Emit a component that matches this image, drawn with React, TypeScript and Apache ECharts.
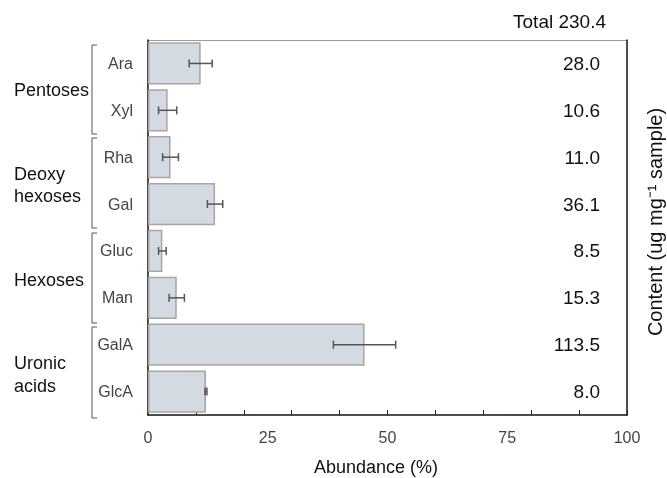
import React, { useEffect, useRef } from "react";
import * as echarts from "echarts";

const categories = ["Ara", "Xyl", "Rha", "Gal", "Gluc", "Man", "GalA", "GlcA"];
const abundance = [11.0, 4.1, 4.7, 14.0, 3.0, 6.0, 45.2, 12.1];
const errors = [2.4, 1.9, 1.65, 1.6, 0.8, 1.6, 6.5, 0.2];
const contents = ["28.0", "10.6", "11.0", "36.1", "8.5", "15.3", "113.5", "8.0"];
const totalLabel = "Total 230.4";
const groupLabels = [["Pentoses"], ["Deoxy", "hexoses"], ["Hexoses"], ["Uronic", "acids"]];
const xTickLabels = [0, 25, 50, 75, 100];

const FONT = "'Liberation Sans', Arial, Helvetica, sans-serif";

export default function App() {
  const ref = useRef<HTMLDivElement>(null);
  useEffect(() => {
    if (!ref.current) return;
    const chart = echarts.init(ref.current, undefined, { renderer: "svg" });

    const groupTop = [45, 138, 233, 327];
    const groupBottom = [134, 228, 323, 418];
    const groupTextY = [[90], [174, 196], [280], [363, 386]];
    const graphics: any[] = [];
    groupLabels.forEach((lines, gi) => {
      const t = groupTop[gi];
      const b = groupBottom[gi];
      graphics.push({
        type: "polyline",
        shape: { points: [[97, t], [92, t], [92, b], [97, b]] },
        style: { stroke: "#555", lineWidth: 1, fill: "none" },
        silent: true,
      });
      lines.forEach((ln, li) => {
        graphics.push({
          type: "text",
          x: 14,
          y: groupTextY[gi][li],
          style: { text: ln, font: `18px ${FONT}`, fill: "#111", textAlign: "left", textVerticalAlign: "middle" },
          silent: true,
        });
      });
    });
    // top frame line (light gray)
    graphics.push({
      type: "line",
      shape: { x1: 148, y1: 40.5, x2: 627, y2: 40.5 },
      style: { stroke: "#9a9a9a", lineWidth: 1 },
      silent: true,
    });
    graphics.push({
      type: "text",
      x: 606,
      y: 21,
      style: { text: totalLabel, font: `19px ${FONT}`, fill: "#111", textAlign: "right", textVerticalAlign: "middle" },
    });
    graphics.push({
      type: "text",
      x: 376,
      y: 467,
      style: { text: "Abundance (%)", font: `18px ${FONT}`, fill: "#111", textAlign: "center", textVerticalAlign: "middle" },
    });
    graphics.push({
      type: "text",
      x: 655,
      y: 222,
      rotation: Math.PI / 2,
      style: {
        text: "Content (ug mg\u207B\u00B9 sample)",
        font: `20px ${FONT}`,
        fill: "#111",
        textAlign: "center",
        textVerticalAlign: "middle",
      },
    });

    const option: any = {
      animation: false,
      grid: {
        left: 148,
        right: 40,
        top: 40,
        bottom: 63,
        show: false,
      },
      xAxis: [
        {
          type: "value",
          min: 0,
          max: 100,
          interval: 25,
          position: "bottom",
          axisLine: { show: true, onZero: false, lineStyle: { color: "#111", width: 1.5 } },
          axisTick: { show: false },
          splitLine: { show: false },
          axisLabel: {
            margin: 14,
            fontSize: 16,
            fontFamily: FONT,
            color: "#444",
            formatter: (v: number) => (xTickLabels.includes(v) ? String(v) : ""),
          },
        },
        {
          type: "value",
          min: 0,
          max: 100,
          interval: 10,
          position: "bottom",
          axisLine: { show: false, onZero: false },
          axisTick: { show: true, inside: true, length: 5, lineStyle: { color: "#222", width: 1 } },
          axisLabel: { show: false },
          splitLine: { show: false },
        },
      ],
      yAxis: [
        {
          type: "category",
          data: categories,
          inverse: true,
          position: "left",
          axisLine: { show: true, onZero: false, lineStyle: { color: "#111", width: 1.5 } },
          axisTick: { show: false },
          axisLabel: { margin: 15, fontSize: 16, fontFamily: FONT, color: "#444" },
        },
        {
          type: "category",
          data: contents,
          inverse: true,
          position: "right",
          axisLine: { show: true, onZero: false, lineStyle: { color: "#111", width: 1.5 } },
          axisTick: { show: false },
          axisLabel: { inside: true, margin: 27, fontSize: 19, fontFamily: FONT, color: "#111" },
        },
      ],
      series: [
        {
          type: "bar",
          xAxisIndex: 0,
          yAxisIndex: 0,
          data: abundance,
          barCategoryGap: "10%",
          itemStyle: { color: "#d3dae2", borderColor: "#aaa4a4", borderWidth: 1.5 },
        },
        {
          type: "custom",
          xAxisIndex: 0,
          yAxisIndex: 0,
          data: abundance.map((v, i) => [i, v, errors[i]]),
          encode: { x: 1, y: 0 },
          renderItem: (params: any, api: any) => {
            const idx = api.value(0);
            const v = api.value(1);
            const e = api.value(2);
            const lo = api.coord([v - e, idx]);
            const hi = api.coord([v + e, idx]);
            const h = 4;
            const style = { stroke: "#555", lineWidth: 1.5 };
            return {
              type: "group",
              children: [
                { type: "line", shape: { x1: lo[0], y1: lo[1], x2: hi[0], y2: hi[1] }, style },
                { type: "line", shape: { x1: lo[0], y1: lo[1] - h, x2: lo[0], y2: lo[1] + h }, style },
                { type: "line", shape: { x1: hi[0], y1: hi[1] - h, x2: hi[0], y2: hi[1] + h }, style },
              ],
            };
          },
          z: 5,
        },
      ],
      graphic: graphics,
    };
    chart.setOption(option);
    return () => chart.dispose();
  }, []);
  return <div ref={ref} style={{ position: "fixed", left: 0, top: 0, width: 667, height: 478 }} />;
}
